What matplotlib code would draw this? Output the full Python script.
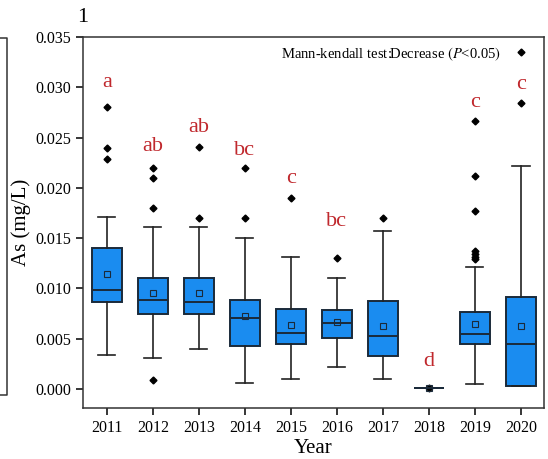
import matplotlib.pyplot as plt
from matplotlib.lines import Line2D

plt.rcParams['font.family'] = ['Liberation Serif', 'DejaVu Serif']
plt.rcParams['mathtext.fontset'] = 'stix'

years = ['2011', '2012', '2013', '2014', '2015', '2016', '2017', '2018', '2019', '2020']
q1 = [0.0086, 0.0074, 0.0074, 0.0043, 0.0045, 0.0051, 0.0033, 0.0001, 0.0045, 0.0003]
med = [0.0098, 0.0088, 0.0086, 0.0071, 0.0056, 0.0066, 0.0053, 0.0001, 0.0055, 0.0045]
q3 = [0.0140, 0.0110, 0.0110, 0.0088, 0.0079, 0.0078, 0.0087, 0.0001, 0.0076, 0.0091]
whislo = [0.0034, 0.0031, 0.0040, 0.0006, 0.0010, 0.0022, 0.0010, 0.0001, 0.0005, 0.0003]
whishi = [0.0171, 0.0161, 0.0161, 0.0150, 0.0131, 0.0110, 0.0157, 0.0001, 0.0121, 0.0222]
means = [0.0114, 0.0095, 0.0095, 0.0073, 0.0064, 0.0067, 0.0063, 0.0001, 0.0065, 0.0063]
fliers = [
    [0.0280, 0.0240, 0.0229],
    [0.0220, 0.0210, 0.0180, 0.0009],
    [0.0241, 0.0170],
    [0.0220, 0.0170],
    [0.0190],
    [0.0130],
    [0.0170],
    [0.0001],
    [0.0266, 0.0212, 0.0177, 0.0137, 0.0134, 0.0131, 0.0129],
    [0.0335, 0.0284],
]
letters = ['a', 'ab', 'ab', 'bc', 'c', 'bc', '', 'd', 'c', 'c']
letter_y = [0.0305, 0.0241, 0.0260, 0.0237, 0.0209, 0.0166, 0, 0.0027, 0.0285, 0.0303]

stats = []
for i in range(len(years)):
    stats.append(dict(q1=q1[i], med=med[i], q3=q3[i], whislo=whislo[i],
                      whishi=whishi[i], mean=means[i], fliers=fliers[i], label=years[i]))

fig = plt.figure(figsize=(5.48, 4.59), dpi=100)
ax = fig.add_axes([83 / 548, 1 - 408 / 459, 461 / 548, 371 / 459])

pos = list(range(1, len(years) + 1))
ax.bxp(stats, positions=pos, widths=0.65, patch_artist=True, showmeans=True,
       boxprops=dict(facecolor='#1a8cf0', edgecolor='#1a2a3a', linewidth=1.4),
       medianprops=dict(color='#1a2a3a', linewidth=1.4),
       whiskerprops=dict(color='#222222', linewidth=1.2),
       capprops=dict(color='#222222', linewidth=1.2),
       capwidths=0.37,
       meanprops=dict(marker='s', markersize=4, markerfacecolor='none',
                      markeredgecolor='#1a2a3a', markeredgewidth=0.8),
       flierprops=dict(marker='D', markersize=3.5, markerfacecolor='black',
                       markeredgecolor='black'))

for i, t in enumerate(letters):
    if t:
        ax.text(pos[i], letter_y[i], t, color='#c0282d', fontsize=16,
                ha='center', va='center')

ax.text(0.668, 0.954, r'Mann-kendall test:Decrease $(P$<0.05$)$', transform=ax.transAxes,
        fontsize=10.5, ha='center', va='center')

ax.set_xlim(0.48, 10.5)
ax.set_ylim(-0.0019, 0.035)
ax.set_yticks([0, 0.005, 0.010, 0.015, 0.020, 0.025, 0.030, 0.035])
ax.set_yticklabels(['0.000', '0.005', '0.010', '0.015', '0.020', '0.025', '0.030', '0.035'])
ax.tick_params(labelsize=11.5, direction='out', length=5, width=1.1)
ax.set_xlabel('Year', fontsize=15, labelpad=2)
ax.set_ylabel('As (mg/L)', fontsize=15, labelpad=3)
for s in ax.spines.values():
    s.set_linewidth(1.1)
    s.set_color('#333333')

fig.text(83 / 548, 1 - 17 / 459, '1', fontsize=16, ha='center', va='center')

# edge of the neighbouring panel
fig.add_artist(Line2D([0, 7 / 548, 7 / 548, 0],
                      [1 - 38 / 459, 1 - 38 / 459, 1 - 395 / 459, 1 - 395 / 459],
                      color='#333333', linewidth=1.1))

fig.savefig('out.png', dpi=100)
